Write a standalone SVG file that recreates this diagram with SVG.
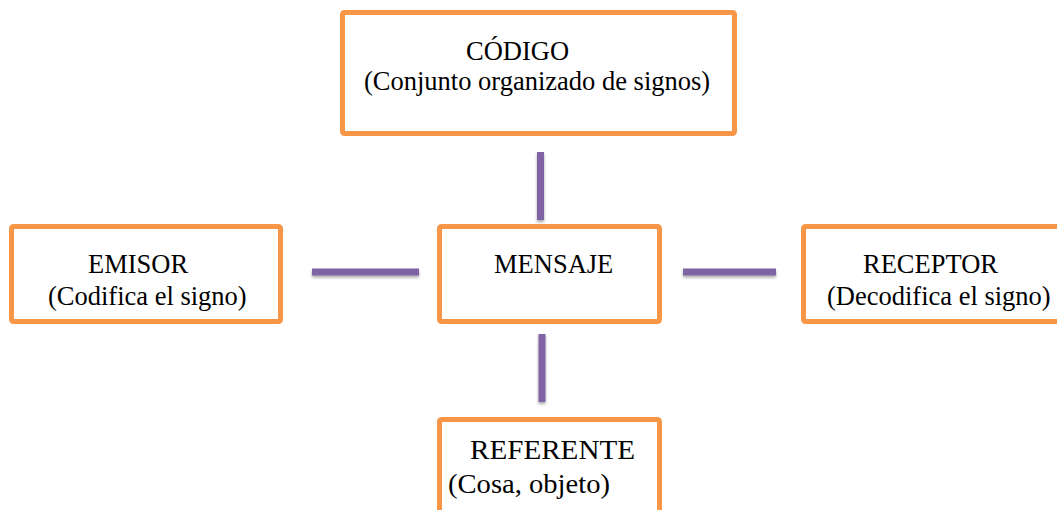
<svg xmlns="http://www.w3.org/2000/svg" width="1057" height="510" viewBox="0 0 1057 510">
<style>
.box{fill:#fff;stroke:#F79646;stroke-width:5;stroke-linejoin:round}
.t{font-family:"Liberation Serif","Times New Roman",serif;font-size:26.5px;fill:#000}
.c{stroke:#8064A2;stroke-width:7;fill:none}
</style>
<defs>
<filter id="sh" x="-50%" y="-50%" width="200%" height="200%">
<feDropShadow dx="0" dy="2" stdDeviation="1.5" flood-color="#000" flood-opacity="0.35"/>
</filter>
</defs>
<rect width="1057" height="510" fill="#fff"/>
<g id="connectors" filter="url(#sh)">
<line class="c" x1="540.5" y1="152" x2="540.5" y2="220"/>
<line class="c" x1="312" y1="272" x2="419" y2="272"/>
<line class="c" x1="683" y1="272" x2="776" y2="272"/>
<line class="c" x1="542" y1="334" x2="542" y2="402"/>
</g>
<g id="codigo">
<rect class="box" x="342.5" y="12.5" width="392" height="121" rx="2"/>
<text class="t" x="466" y="60">CÓDIGO</text>
<text class="t" x="364" y="90">(Conjunto organizado de signos)</text>
</g>
<g id="emisor">
<rect class="box" x="11.5" y="226.5" width="269" height="95" rx="2"/>
<text class="t" x="88" y="273">EMISOR</text>
<text class="t" x="48" y="305">(Codifica el signo)</text>
</g>
<g id="mensaje">
<rect class="box" x="439.5" y="226.5" width="220" height="95" rx="2"/>
<text class="t" x="494" y="273">MENSAJE</text>
</g>
<g id="receptor">
<rect class="box" x="803.5" y="226.5" width="270" height="95" rx="2"/>
<text class="t" x="863" y="273">RECEPTOR</text>
<text class="t" x="827" y="305">(Decodifica el signo)</text>
</g>
<g id="referente">
<rect class="box" x="439.5" y="419.5" width="220" height="120" rx="2"/>
<text class="t" x="470" y="459" textLength="165" lengthAdjust="spacingAndGlyphs">REFERENTE</text>
<text class="t" x="448" y="493" textLength="162" lengthAdjust="spacingAndGlyphs">(Cosa, objeto)</text>
</g>
</svg>
